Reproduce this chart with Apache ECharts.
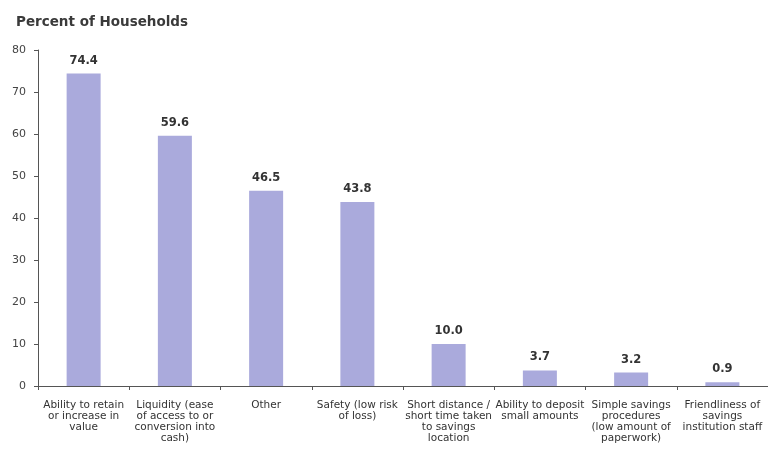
<!DOCTYPE html>
<html><head><meta charset="utf-8">
<script src="https://cdn.jsdelivr.net/npm/echarts@6/dist/echarts.min.js"></script>
<style>html,body{margin:0;padding:0;background:#fff}#c{width:768px;height:450px}</style>
</head><body><div id="c"></div>
<script>
var categories = [
  "Ability to retain\nor increase in\nvalue",
  "Liquidity (ease\nof access to or\nconversion into\ncash)",
  "Other",
  "Safety (low risk\nof loss)",
  "Short distance /\nshort time taken\nto savings\nlocation",
  "Ability to deposit\nsmall amounts",
  "Simple savings\nprocedures\n(low amount of\npaperwork)",
  "Friendliness of\nsavings\ninstitution staff"
];
var values = [74.4, 59.6, 46.5, 43.8, 10.0, 3.7, 3.2, 0.9];
var yTicks = {min: 0, max: 80, interval: 10};

var chart = echarts.init(document.getElementById('c'));
chart.setOption({
  animation: false,
  title: {
    text: 'Percent of Households', left: 11, top: 10,
    textStyle: {fontFamily: 'DejaVu Sans', fontSize: 13.5, fontWeight: 'bold', color: '#3a3a3a'}
  },
  grid: {left: 38, top: 50, width: 736, bottom: 64, containLabel: false},
  xAxis: {
    type: 'category', data: categories,
    axisLine: {lineStyle: {color: '#555', width: 1}},
    axisTick: {show: true, alignWithLabel: false, length: 4, lineStyle: {color: '#555'}},
    axisLabel: {interval: 0, color: '#333', fontFamily: 'DejaVu Sans', fontSize: 10.5, lineHeight: 11, margin: 14}
  },
  yAxis: {
    type: 'value', min: yTicks.min, max: yTicks.max, interval: yTicks.interval,
    axisLine: {show: true, lineStyle: {color: '#555', width: 1}},
    axisTick: {show: true, length: 4, lineStyle: {color: '#555'}},
    splitLine: {show: false},
    axisLabel: {color: '#444', fontFamily: 'DejaVu Sans', fontSize: 11, margin: 12}
  },
  series: [{
    type: 'bar', data: values, barWidth: 34,
    itemStyle: {color: '#aaaadc'},
    label: {
      show: true, position: 'top', distance: 7,
      formatter: function (p) { return p.value.toFixed(1); },
      fontFamily: 'DejaVu Sans', fontSize: 11.5, fontWeight: 'bold', color: '#333'
    }
  }]
});
</script></body></html>
